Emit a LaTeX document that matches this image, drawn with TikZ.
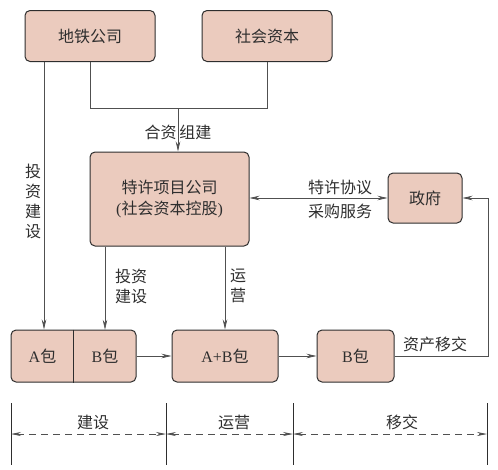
\documentclass[tikz,border=0pt]{standalone}
\usepackage{fontspec}
\setmainfont{Liberation Serif}
\newfontfamily\cjk{Noto Sans CJK SC}
\usetikzlibrary{arrows.meta}
\definecolor{boxfill}{HTML}{EBCBBE}
\definecolor{ink}{HTML}{2E2E2E}
\definecolor{wire}{HTML}{505050}
\begin{document}
\begin{tikzpicture}[x=1pt,y=-1pt,
  every node/.style={text=ink,font=\fontsize{16}{19}\selectfont\cjk},
  box/.style={draw=ink,line width=1pt,rounded corners=5pt,fill=boxfill,inner sep=0pt},
  plain/.style={inner sep=0pt},
  conn/.style={draw=wire,line width=0.7pt},
  arr/.style={conn,-{Stealth[length=10pt,width=4.5pt]}},
  darr/.style={conn,{Stealth[length=10pt,width=4.5pt]}-{Stealth[length=10pt,width=4.5pt]}},
  dasharr/.style={draw=wire,line width=0.7pt,dash pattern=on 7pt off 5pt,{Stealth[length=10pt,width=4pt]}-{Stealth[length=10pt,width=4pt]}},
  tick/.style={draw=ink,line width=0.8pt},
  lbl/.style={inner sep=0pt,align=center}]
\useasboundingbox (0,0) rectangle (498,469);
% boxes
\node[box,minimum width=130pt,minimum height=51pt] (dt) at (90,36) {地铁公司};
\node[box,minimum width=130pt,minimum height=51pt] (sz) at (267,36) {社会资本};
\node[box,minimum width=159pt,minimum height=94pt,align=center] (tx) at (169.5,199) {特许项目公司\\[2pt]{\rmfamily(}社会资本控股{\rmfamily)}};
\node[box,minimum width=74pt,minimum height=50pt] (gov) at (425,198) {政府};
\node[box,minimum width=125pt,minimum height=52pt] (ab) at (73.5,356) {};
\node[plain,minimum width=63pt,minimum height=52pt] (pa) at (42.5,356) {{\rmfamily A}包};
\node[plain,minimum width=62pt,minimum height=52pt] (pb) at (105,356) {{\rmfamily B}包};
\draw[draw=ink,line width=1pt] (ab.north) -- (ab.south);
\node[box,minimum width=106pt,minimum height=52pt] (apb) at (225,356) {{\rmfamily A+B}包};
\node[box,minimum width=77pt,minimum height=52pt] (bb) at (355.5,356) {{\rmfamily B}包};
% top connectors
\coordinate (j) at (178,108);
\coordinate (jl) at (90,108);
\coordinate (jr) at (267,108);
\draw[conn] (dt.south) -- (jl) -- (jr) -- (sz.south);
\draw[arr] (j) -- (j |- tx.north);
\node[lbl] at (178,132) {合资\hspace{3pt}组建};
% left investment line
\coordinate (l0) at ([xshift=-46pt]dt.south);
\draw[arr] (l0) -- (l0 |- ab.north);
\node[lbl,font=\fontsize{16}{20}\selectfont\cjk] at (33,201) {投\\资\\建\\设};
% from tx down
\draw[arr] (tx.south -| pb.north) -- (pb.north);
\node[lbl,font=\fontsize{16}{20}\selectfont\cjk] at (131,286) {投资\\建设};
\draw[arr] (tx.south -| apb.north) -- (apb.north);
\node[lbl,font=\fontsize{16}{20}\selectfont\cjk] at (238,286) {运\\营};
% tx <-> gov
\draw[darr] (tx.east |- gov.west) -- (gov.west);
\node[lbl] at (340,187) {特许协议};
\node[lbl] at (340,211) {采购服务};
% flow
\draw[arr] (ab.east) -- (apb.west);
\draw[arr] (apb.east) -- (bb.west);
\coordinate (r1) at (488,356);
\draw[arr] (bb.east) -- (r1) -- (r1 |- gov.east) -- (gov.east);
\node[lbl] at (435,344) {资产移交};
% timeline
\coordinate (t1) at (11,403); \coordinate (b1) at (11,465);
\coordinate (t2) at (166,403); \coordinate (b2) at (166,465);
\coordinate (t3) at (293,403); \coordinate (b3) at (293,465);
\coordinate (t4) at (487,403); \coordinate (b4) at (487,465);
\draw[tick] (t1) -- (b1); \draw[tick] (t2) -- (b2);
\draw[tick] (t3) -- (b3); \draw[tick] (t4) -- (b4);
\coordinate (m1) at (11,434); \coordinate (m2) at (166,434);
\coordinate (m3) at (293,434); \coordinate (m4) at (487,434);
\draw[dasharr] (m1) -- (m2);
\draw[dasharr] (m2) -- (m3);
\draw[dasharr] (m3) -- (m4);
\node[lbl] at (93,422) {建设};
\node[lbl] at (234,422) {运营};
\node[lbl] at (402,422) {移交};
\end{tikzpicture}
\end{document}
